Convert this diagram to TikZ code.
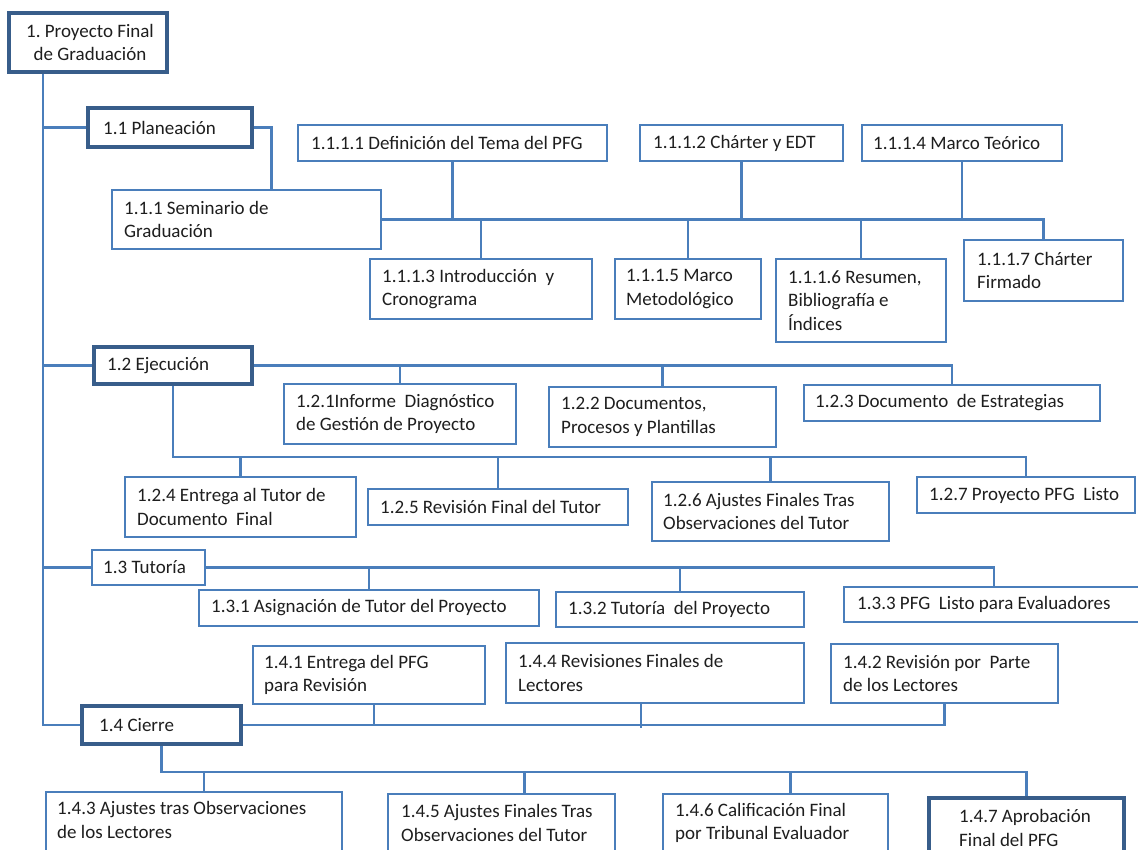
\documentclass[tikz,border=0pt]{standalone}
\usepackage{fontspec}
\setmainfont{Carlito}
\usetikzlibrary{backgrounds}
\definecolor{lnblue}{HTML}{4A7EBB}
\definecolor{dkblue}{HTML}{385D8A}
\definecolor{txtc}{HTML}{1E1E1E}
\tikzset{
  bx/.style={draw=lnblue, line width=1.6pt, fill=white, rectangle, inner sep=0pt},
  hdbox/.style={draw=dkblue, line width=3.8pt},
  tx/.style={inner sep=0pt, align=left, text=txtc, font=\frenchspacing\fontsize{19}{23.5}\selectfont},
  ln/.style={draw=lnblue, line width=2.6pt},
}
% box with text centred vertically: [style]{name}{x1}{y1}{x2}{y2}{left pad}{text}
\newcommand{\mybox}[8][]{%
  \pgfmathsetmacro{\myBW}{#5-#3}%
  \pgfmathsetmacro{\myBH}{#6-#4}%
  \pgfmathsetmacro{\myCX}{(#3+#5)/2}%
  \pgfmathsetmacro{\myCY}{(#4+#6)/2}%
  \pgfmathsetmacro{\myTX}{#3+#7}%
  \node[bx,#1,minimum width=\myBW pt,minimum height=\myBH pt] (#2) at (\myCX,\myCY) {};
  \node[tx,anchor=west] (#2-t) at (\myTX,\myCY) {#8};}
% box running past the lower edge: [style]{name}{x1}{y1}{x2}{y2}{left pad}{text centre y}{text}
\newcommand{\mybotbox}[9][]{%
  \pgfmathsetmacro{\myBW}{#5-#3}%
  \pgfmathsetmacro{\myBH}{#6-#4}%
  \pgfmathsetmacro{\myCX}{(#3+#5)/2}%
  \pgfmathsetmacro{\myCY}{(#4+#6)/2}%
  \pgfmathsetmacro{\myTX}{#3+#7}%
  \node[bx,#1,minimum width=\myBW pt,minimum height=\myBH pt] (#2) at (\myCX,\myCY) {};
  \node[tx,anchor=west] (#2-t) at (\myTX,#8) {#9};}
\begin{document}
\begin{tikzpicture}[x=1pt,y=-1pt]
\useasboundingbox (0,0) rectangle (1138,850);
\clip (0,0) rectangle (1138,850);
% boxes
\node[bx,hdbox,minimum width=158pt,minimum height=59pt] (root) at (88,42.5) {};
\node[tx,align=center] (root-t) at (90,42.5) {1. Proyecto Final\\de Graduación};
\mybox[hdbox]{c11}{88}{108}{252}{147}{15}{1.1 Planeación}
\mybox{c111}{112}{190}{381}{249}{12}{1.1.1 Seminario de\\Graduación}
\mybox{c1111}{298}{125}{607}{161}{13}{1.1.1.1 Definición del Tema del PFG}
\mybox{c1112}{640}{125}{843}{161}{13}{1.1.1.2 Chárter y EDT}
\mybox{c1114}{862}{125}{1062}{161}{11}{1.1.1.4 Marco Teórico}
\mybox{c1113}{370}{259}{592}{319}{12}{1.1.1.3 Introducción\ \ y\\Cronograma}
\mybox{c1115}{615}{259}{761}{319}{11}{1.1.1.5 Marco\\Metodológico}
\mybox{c1116}{776}{259}{946}{342}{12}{1.1.1.6 Resumen,\\Bibliografía e\\Índices}
\mybox{c1117}{964}{240}{1123}{301}{13}{1.1.1.7 Chárter\\Firmado}
\mybox[hdbox]{c12}{94}{347}{252}{384}{13}{1.2 Ejecución}
\mybox{c121}{284}{384}{516}{444}{12}{1.2.1Informe\ \ Diagnóstico\\de Gestión de Proyecto}
\mybox{c122}{549}{387}{776}{447}{12}{1.2.2 Documentos,\\Procesos y Plantillas}
\mybox{c123}{804}{385}{1100}{421}{11}{1.2.3 Documento\ \ de Estrategias}
\mybox{c124}{125}{477}{356}{537}{12}{1.2.4 Entrega al Tutor de\\Documento\ \ Final}
\mybox{c125}{368}{489}{628}{525}{12}{1.2.5 Revisión Final del Tutor}
\mybox{c126}{652}{482}{889}{541}{11}{1.2.6 Ajustes Finales Tras\\Observaciones del Tutor}
\mybox{c127}{917}{477}{1135}{513}{12}{1.2.7 Proyecto PFG\ \ Listo}
\mybox{c13}{92}{550}{205}{585}{11}{1.3 Tutoría}
\mybox{c131}{199}{590}{539}{626}{12}{1.3.1 Asignación de Tutor del Proyecto}
\mybox{c132}{556}{592}{804}{627}{12}{1.3.2 Tutoría\ \ del Proyecto}
\mybox{c133}{844}{587}{1144}{622}{13}{1.3.3 PFG\ \ Listo para Evaluadores}
\mybox[hdbox]{c14}{82}{706}{241}{744}{17}{1.4 Cierre}
\mybox{c141}{253}{646}{485}{704}{11}{1.4.1 Entrega del PFG\\para Revisión}
\mybox{c144}{506}{643}{804}{703}{12}{1.4.4 Revisiones Finales de\\Lectores}
\mybox{c142}{831}{644}{1058}{703}{12}{1.4.2 Revisión por\ \ Parte\\de los Lectores}
\mybotbox{c143}{46}{792}{342}{872}{11}{820}{1.4.3 Ajustes tras Observaciones\\de los Lectores}
\mybotbox{c145}{388}{794}{615}{874}{13}{823}{1.4.5 Ajustes Finales Tras\\Observaciones del Tutor}
\mybotbox{c146}{663}{794}{888}{874}{12}{823}{1.4.6 Calificación Final\\por Tribunal Evaluador}
\mybotbox[hdbox]{c147}{929}{798}{1124}{888}{30}{828}{1.4.7 Aprobación\\Final del PFG}
% connectors
\begin{scope}[on background layer]
\fill[white] (0,0) rectangle (1138,850);
\coordinate (tr) at ([xshift=36pt]root.south west);
\draw[ln] (tr) |- (c14.west);
\draw[ln] (c11.west) -- (c11.west -| tr);
\draw[ln] (c12.west) -- (c12.west -| tr);
\draw[ln] (c13.west) -- (c13.west -| tr);
% 1.1
\coordinate (k11) at ([xshift=160pt]c111.north west);
\draw[ln] (c11.east) -| (k11);
\draw[ln] (c111.east) -| (c1117.north);
\foreach \n in {c1111,c1112,c1114} \draw[ln] (\n.south) -- (\n.south |- c111.east);
\foreach \n in {c1113,c1115,c1116} \draw[ln] (\n.north) -- (\n.north |- c111.east);
% 1.2
\draw[ln] (c12.east) -| (c123.north);
\foreach \n in {c121,c122} \draw[ln] (\n.north) -- (\n.north |- c12.east);
\coordinate (b12) at (0,457);
\draw[ln] (c12.south) |- (b12 -| c127.north) -- (c127.north);
\foreach \n in {c124,c125,c126} \draw[ln] (\n.north) -- (\n.north |- b12);
% 1.3
\draw[ln] (c13.east) -| (c133.north);
\foreach \n in {c131,c132} \draw[ln] (\n.north) -- (\n.north |- c13.east);
% 1.4
\draw[ln] (c14.east) -| (c142.south);
\coordinate (d141) at ([xshift=5pt]c141.south);
\coordinate (d144) at ([xshift=-14pt]c144.south);
\draw[ln] (d141) -- (d141 |- c14.east);
\draw[ln] (d144) -- ([yshift=-3pt]d144 |- c14.east);
\coordinate (b14) at (0,772);
\draw[ln] (c14.south) |- (b14 -| c147.north) -- (c147.north);
\coordinate (d143) at ([xshift=10pt]c143.north);
\coordinate (d145) at ([xshift=23pt]c145.north);
\coordinate (d146) at ([xshift=15pt]c146.north);
\foreach \n in {d143,d145,d146} \draw[ln] (\n) -- (\n |- b14);
\end{scope}
\end{tikzpicture}
\end{document}
